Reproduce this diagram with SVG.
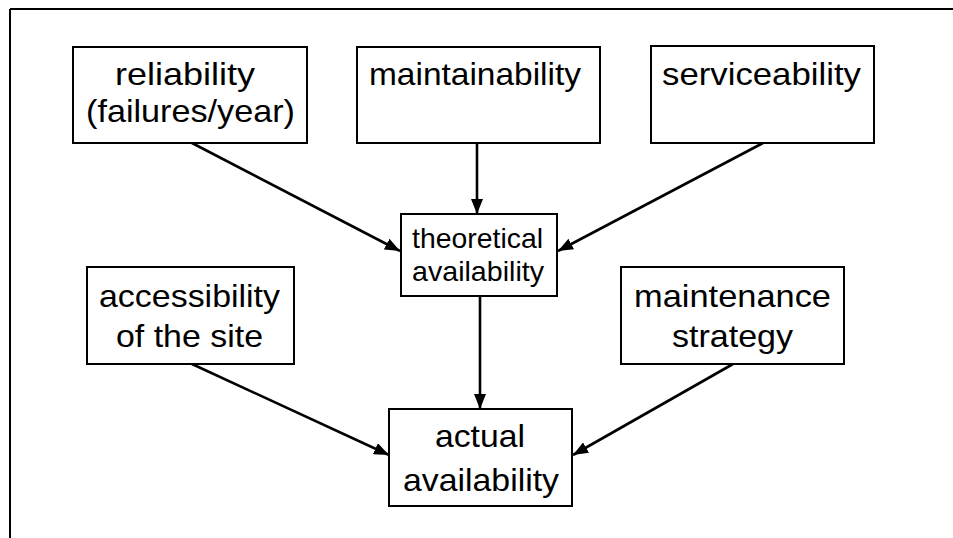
<svg xmlns="http://www.w3.org/2000/svg" width="953" height="538" viewBox="0 0 953 538">
<style>
.box{fill:#fff;stroke:#000;stroke-width:2}
.t{font-family:"Liberation Sans",Arial,sans-serif;font-size:32px;fill:#000}
.ts{font-family:"Liberation Sans",Arial,sans-serif;font-size:28px;fill:#000}
.c{stroke:#000;stroke-width:2.6;fill:none;marker-end:url(#ah)}
</style>
<defs>
<marker id="ah" markerUnits="userSpaceOnUse" markerWidth="16" markerHeight="12" refX="15" refY="6" orient="auto">
<path d="M0,0 L15,6 L0,12 z" fill="#000"/>
</marker>
</defs>
<rect x="0" y="0" width="953" height="538" fill="#fff"/>
<g id="frame" stroke="#000" stroke-width="2">
<line x1="10" y1="9" x2="953" y2="9"/>
<line x1="10" y1="9" x2="10" y2="538"/>
</g>
<g id="connectors">
<line class="c" x1="192" y1="143" x2="400" y2="251"/>
<line class="c" x1="477" y1="143" x2="477" y2="214"/>
<line class="c" x1="763" y1="143" x2="558" y2="251"/>
<line class="c" x1="480" y1="296" x2="480" y2="409"/>
<line class="c" x1="192" y1="364" x2="389" y2="455"/>
<line class="c" x1="733" y1="364" x2="573" y2="455"/>
</g>
<g id="reliability">
<rect class="box" x="73" y="47" width="234" height="96"/>
<text class="t" x="115" y="85" textLength="140" lengthAdjust="spacingAndGlyphs">reliability</text>
<text class="t" x="86" y="122" textLength="209" lengthAdjust="spacingAndGlyphs">(failures/year)</text>
</g>
<g id="maintainability">
<rect class="box" x="357" y="47" width="243" height="96"/>
<text class="t" x="369" y="85" textLength="212" lengthAdjust="spacingAndGlyphs">maintainability</text>
</g>
<g id="serviceability">
<rect class="box" x="651" y="46" width="223" height="97"/>
<text class="t" x="662" y="85" textLength="199" lengthAdjust="spacingAndGlyphs">serviceability</text>
</g>
<g id="theoretical">
<rect class="box" x="401" y="214" width="156" height="82"/>
<text class="ts" x="412" y="248" textLength="131" lengthAdjust="spacingAndGlyphs">theoretical</text>
<text class="ts" x="412" y="281" textLength="132" lengthAdjust="spacingAndGlyphs">availability</text>
</g>
<g id="accessibility">
<rect class="box" x="87" y="267" width="207" height="97"/>
<text class="t" x="99" y="307" textLength="181" lengthAdjust="spacingAndGlyphs">accessibility</text>
<text class="t" x="116" y="347" textLength="147" lengthAdjust="spacingAndGlyphs">of the site</text>
</g>
<g id="maintenance">
<rect class="box" x="621" y="267" width="223" height="97"/>
<text class="t" x="634" y="307" textLength="197" lengthAdjust="spacingAndGlyphs">maintenance</text>
<text class="t" x="672" y="347" textLength="121" lengthAdjust="spacingAndGlyphs">strategy</text>
</g>
<g id="actual">
<rect class="box" x="389" y="409" width="183" height="97"/>
<text class="t" x="435" y="447" textLength="90" lengthAdjust="spacingAndGlyphs">actual</text>
<text class="t" x="403" y="491" textLength="156" lengthAdjust="spacingAndGlyphs">availability</text>
</g>
</svg>
